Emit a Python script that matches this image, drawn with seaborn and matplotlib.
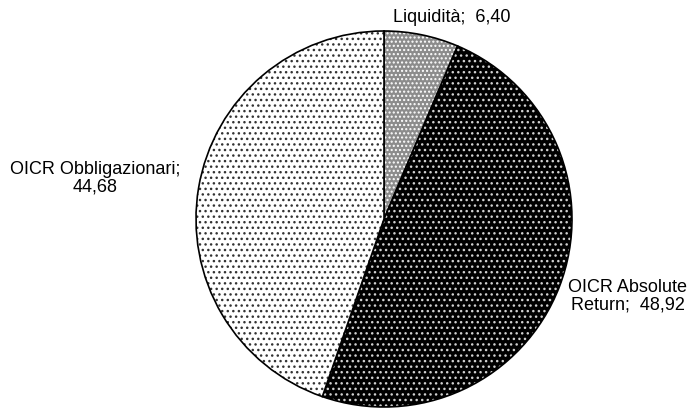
import numpy as np
import matplotlib
matplotlib.use("Agg")
import matplotlib.pyplot as plt
import seaborn as sns
from matplotlib.patches import Wedge

# dati
categorie = ["Liquidità", "OICR Absolute Return", "OICR Obbligazionari"]
etichette = ["Liquidità;  6,40", "OICR Absolute\nReturn;  48,92", "OICR Obbligazionari;\n44,68"]
valori = [6.40, 48.92, 44.68]

sns.set_theme(style="white")
plt.rcParams["font.family"] = ["Liberation Sans", "DejaVu Sans"]
plt.rcParams["hatch.linewidth"] = 1.0

fig = plt.figure(figsize=(6.93, 4.15), dpi=100)
ax = fig.add_axes([0, 0, 1, 1])

# riempimenti: (colore di fondo, colore dei puntini, hatch)
stili = [("#8c8c8c", "white", "...."),
         ("black", "#d0d0d0", "..."),
         ("white", "#333333", "...")]

tot = sum(valori)
start = 90.0
angoli_medi = []
for v, (fc, hc, h) in zip(valori, stili):
    span = 360.0 * v / tot
    t1, t2 = start - span, start
    # fondo + puntini
    ax.add_patch(Wedge((0, 0), 1, t1, t2, facecolor=fc, edgecolor=hc,
                       hatch=h, linewidth=0))
    # contorno
    ax.add_patch(Wedge((0, 0), 1, t1, t2, facecolor="none",
                       edgecolor="black", linewidth=1.2))
    angoli_medi.append(np.deg2rad(start - span / 2))
    start -= span

# posizione delle etichette (distanza e scostamento d'angolo rispetto al centro della fetta)
distanze = [1.13, 1.36, 1.55]
scarti = [-7.0, 3.5, 1.5]
for testo, a, d, s in zip(etichette, angoli_medi, distanze, scarti):
    a = a + np.deg2rad(s)
    ax.text(d * np.cos(a), d * np.sin(a), testo, ha="center", va="center",
            fontsize=13, color="black", linespacing=1.05)

R = 188
cx, cy = 384, 219
ax.set_xlim(-cx / R, (693 - cx) / R)
ax.set_ylim(-(415 - cy) / R, cy / R)
ax.axis("off")

fig.savefig("out.png", dpi=100)
